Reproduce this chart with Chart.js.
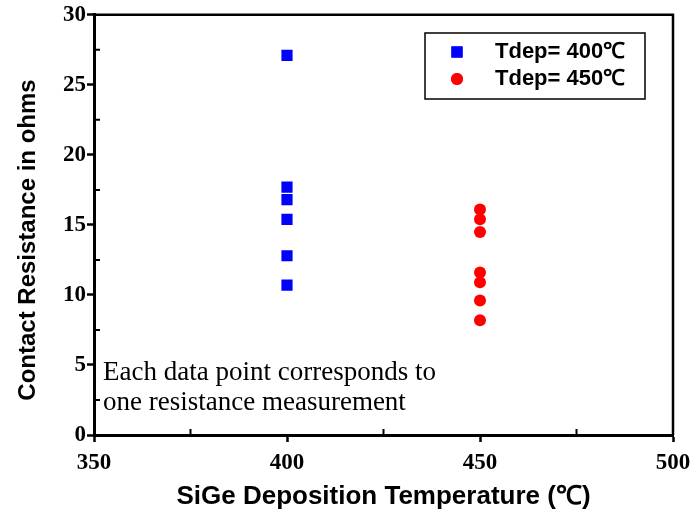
<!DOCTYPE html>
<html>
<head>
<meta charset="utf-8">
<script src="https://cdn.jsdelivr.net/npm/chart.js@4/dist/chart.umd.min.js"></script>
<style>
  html, body { margin: 0; padding: 0; background: #fff; }
  #wrap { width: 691px; height: 512px; }
</style>
</head>
<body>
<div id="wrap"><canvas id="resChart" width="691" height="512"></canvas></div>
<script>
// contact resistance readings (ohms) per SiGe deposition temperature
const temp400 = [400, 400, 400, 400, 400, 400];
const res400 = [27.1, 17.7, 16.8, 15.4, 12.8, 10.7];
const temp450 = [450, 450, 450, 450, 450, 450, 450];
const res450 = [16.1, 15.4, 14.5, 11.6, 10.9, 9.6, 8.2];

const seriesLabels = ['Tdep= 400\u2103', 'Tdep= 450\u2103'];
const noteLines = ['Each data point corresponds to', 'one resistance measurement'];
const yTitle = 'Contact Resistance in ohms';
const xTitle = 'SiGe Deposition Temperature (\u2103)';

const xMin = 350, xMax = 500, xStep = 50, xMinor = 25;
const yMin = 0, yMax = 30, yStep = 5, yMinor = 2.5;

const sansFont = '"Liberation Sans", Arial, sans-serif';
const serifFont = '"Liberation Serif", "Times New Roman", serif';

function toPoints(xs, ys) {
    return xs.map((x, i) => ({ x: x, y: ys[i] }));
}

// closes the box on top/right, adds inward minor ticks, the y title, the note and the legend
const framePlugin = {
    id: 'frame',
    afterDraw(chart) {
        const ctx = chart.ctx;
        const a = chart.chartArea;
        const xs = chart.scales.x;
        const ys = chart.scales.y;
        ctx.save();
        ctx.strokeStyle = '#000';
        ctx.lineWidth = 2.5;
        ctx.beginPath();
        ctx.moveTo(a.left, a.top);
        ctx.lineTo(a.right, a.top);
        ctx.lineTo(a.right, a.bottom);
        ctx.stroke();

        // minor ticks, pointing into the plot
        ctx.lineWidth = 2;
        ctx.beginPath();
        for (let v = xMin + xMinor; v < xMax; v += xStep) {
            const px = xs.getPixelForValue(v);
            ctx.moveTo(px, a.bottom);
            ctx.lineTo(px, a.bottom - 6);
        }
        for (let v = yMin + yMinor; v < yMax; v += yStep) {
            const py = ys.getPixelForValue(v);
            ctx.moveTo(a.left, py);
            ctx.lineTo(a.left + 6, py);
        }
        ctx.stroke();

        // y axis title, sits a little below the plot's middle
        ctx.fillStyle = '#000';
        ctx.textBaseline = 'middle';
        ctx.save();
        ctx.translate(28, 240);
        ctx.rotate(-Math.PI / 2);
        ctx.textAlign = 'center';
        ctx.font = 'bold 24px ' + sansFont;
        ctx.fillText(yTitle, 0, 0);
        ctx.restore();

        // note text
        ctx.textAlign = 'left';
        ctx.font = '27px ' + serifFont;
        ctx.fillText(noteLines[0], a.left + 9, 373);
        ctx.fillText(noteLines[1], a.left + 9, 403);

        // legend box
        const bx = 425, by = 33, bw = 220, bh = 66;
        ctx.lineWidth = 1.5;
        ctx.strokeRect(bx, by, bw, bh);
        ctx.font = 'bold 22px ' + sansFont;
        chart.data.datasets.forEach((ds, i) => {
            const cy = by + 19 + i * 27;
            ctx.fillStyle = ds.backgroundColor;
            Chart.helpers.drawPoint(ctx, {
                pointStyle: ds.pointStyle,
                radius: ds.pointRadius,
                rotation: 0,
                borderWidth: 0
            }, bx + 32, cy);
            ctx.fill();
            ctx.fillStyle = '#000';
            ctx.fillText(ds.label, bx + 70, cy);
        });
        ctx.restore();
    }
};

const tickFont = { family: serifFont, size: 23, weight: 'bold' };

new Chart(document.getElementById('resChart'), {
    type: 'scatter',
    data: {
        datasets: [{
            label: seriesLabels[0],
            data: toPoints(temp400, res400),
            pointStyle: 'rect',
            pointRadius: 7.9,
            pointHoverRadius: 7.9,
            backgroundColor: '#0000ff',
            borderWidth: 0
        }, {
            label: seriesLabels[1],
            data: toPoints(temp450, res450),
            pointStyle: 'circle',
            pointRadius: 6,
            pointHoverRadius: 6,
            backgroundColor: '#ff0000',
            borderWidth: 0
        }]
    },
    options: {
        responsive: false,
        animation: false,
        layout: { padding: { top: 14, right: 18, left: 0, bottom: 0 } },
        plugins: {
            legend: { display: false },
            tooltip: { enabled: false }
        },
        scales: {
            x: {
                type: 'linear',
                min: xMin,
                max: xMax,
                afterFit(scale) {
                    scale.height = 77;
                    scale.paddingLeft = 0;
                    scale.paddingRight = 0;
                },
                ticks: { stepSize: xStep, color: '#000', font: tickFont, padding: 7, maxRotation: 0 },
                grid: { drawOnChartArea: false, drawTicks: true, tickLength: 7, tickWidth: 2.5, tickColor: '#000' },
                border: { display: true, color: '#000', width: 3 },
                title: { display: true, text: xTitle, color: '#000', font: { family: sansFont, size: 26, weight: 'bold' }, padding: { top: 10, bottom: 0 } }
            },
            y: {
                min: yMin,
                max: yMax,
                afterFit(scale) { scale.width = 94; },
                ticks: { stepSize: yStep, color: '#000', font: tickFont, padding: 1 },
                grid: { drawOnChartArea: false, drawTicks: true, tickLength: 7, tickWidth: 2.5, tickColor: '#000' },
                border: { display: true, color: '#000', width: 3 },
                title: { display: false }
            }
        }
    },
    plugins: [framePlugin]
});
</script>
</body>
</html>
